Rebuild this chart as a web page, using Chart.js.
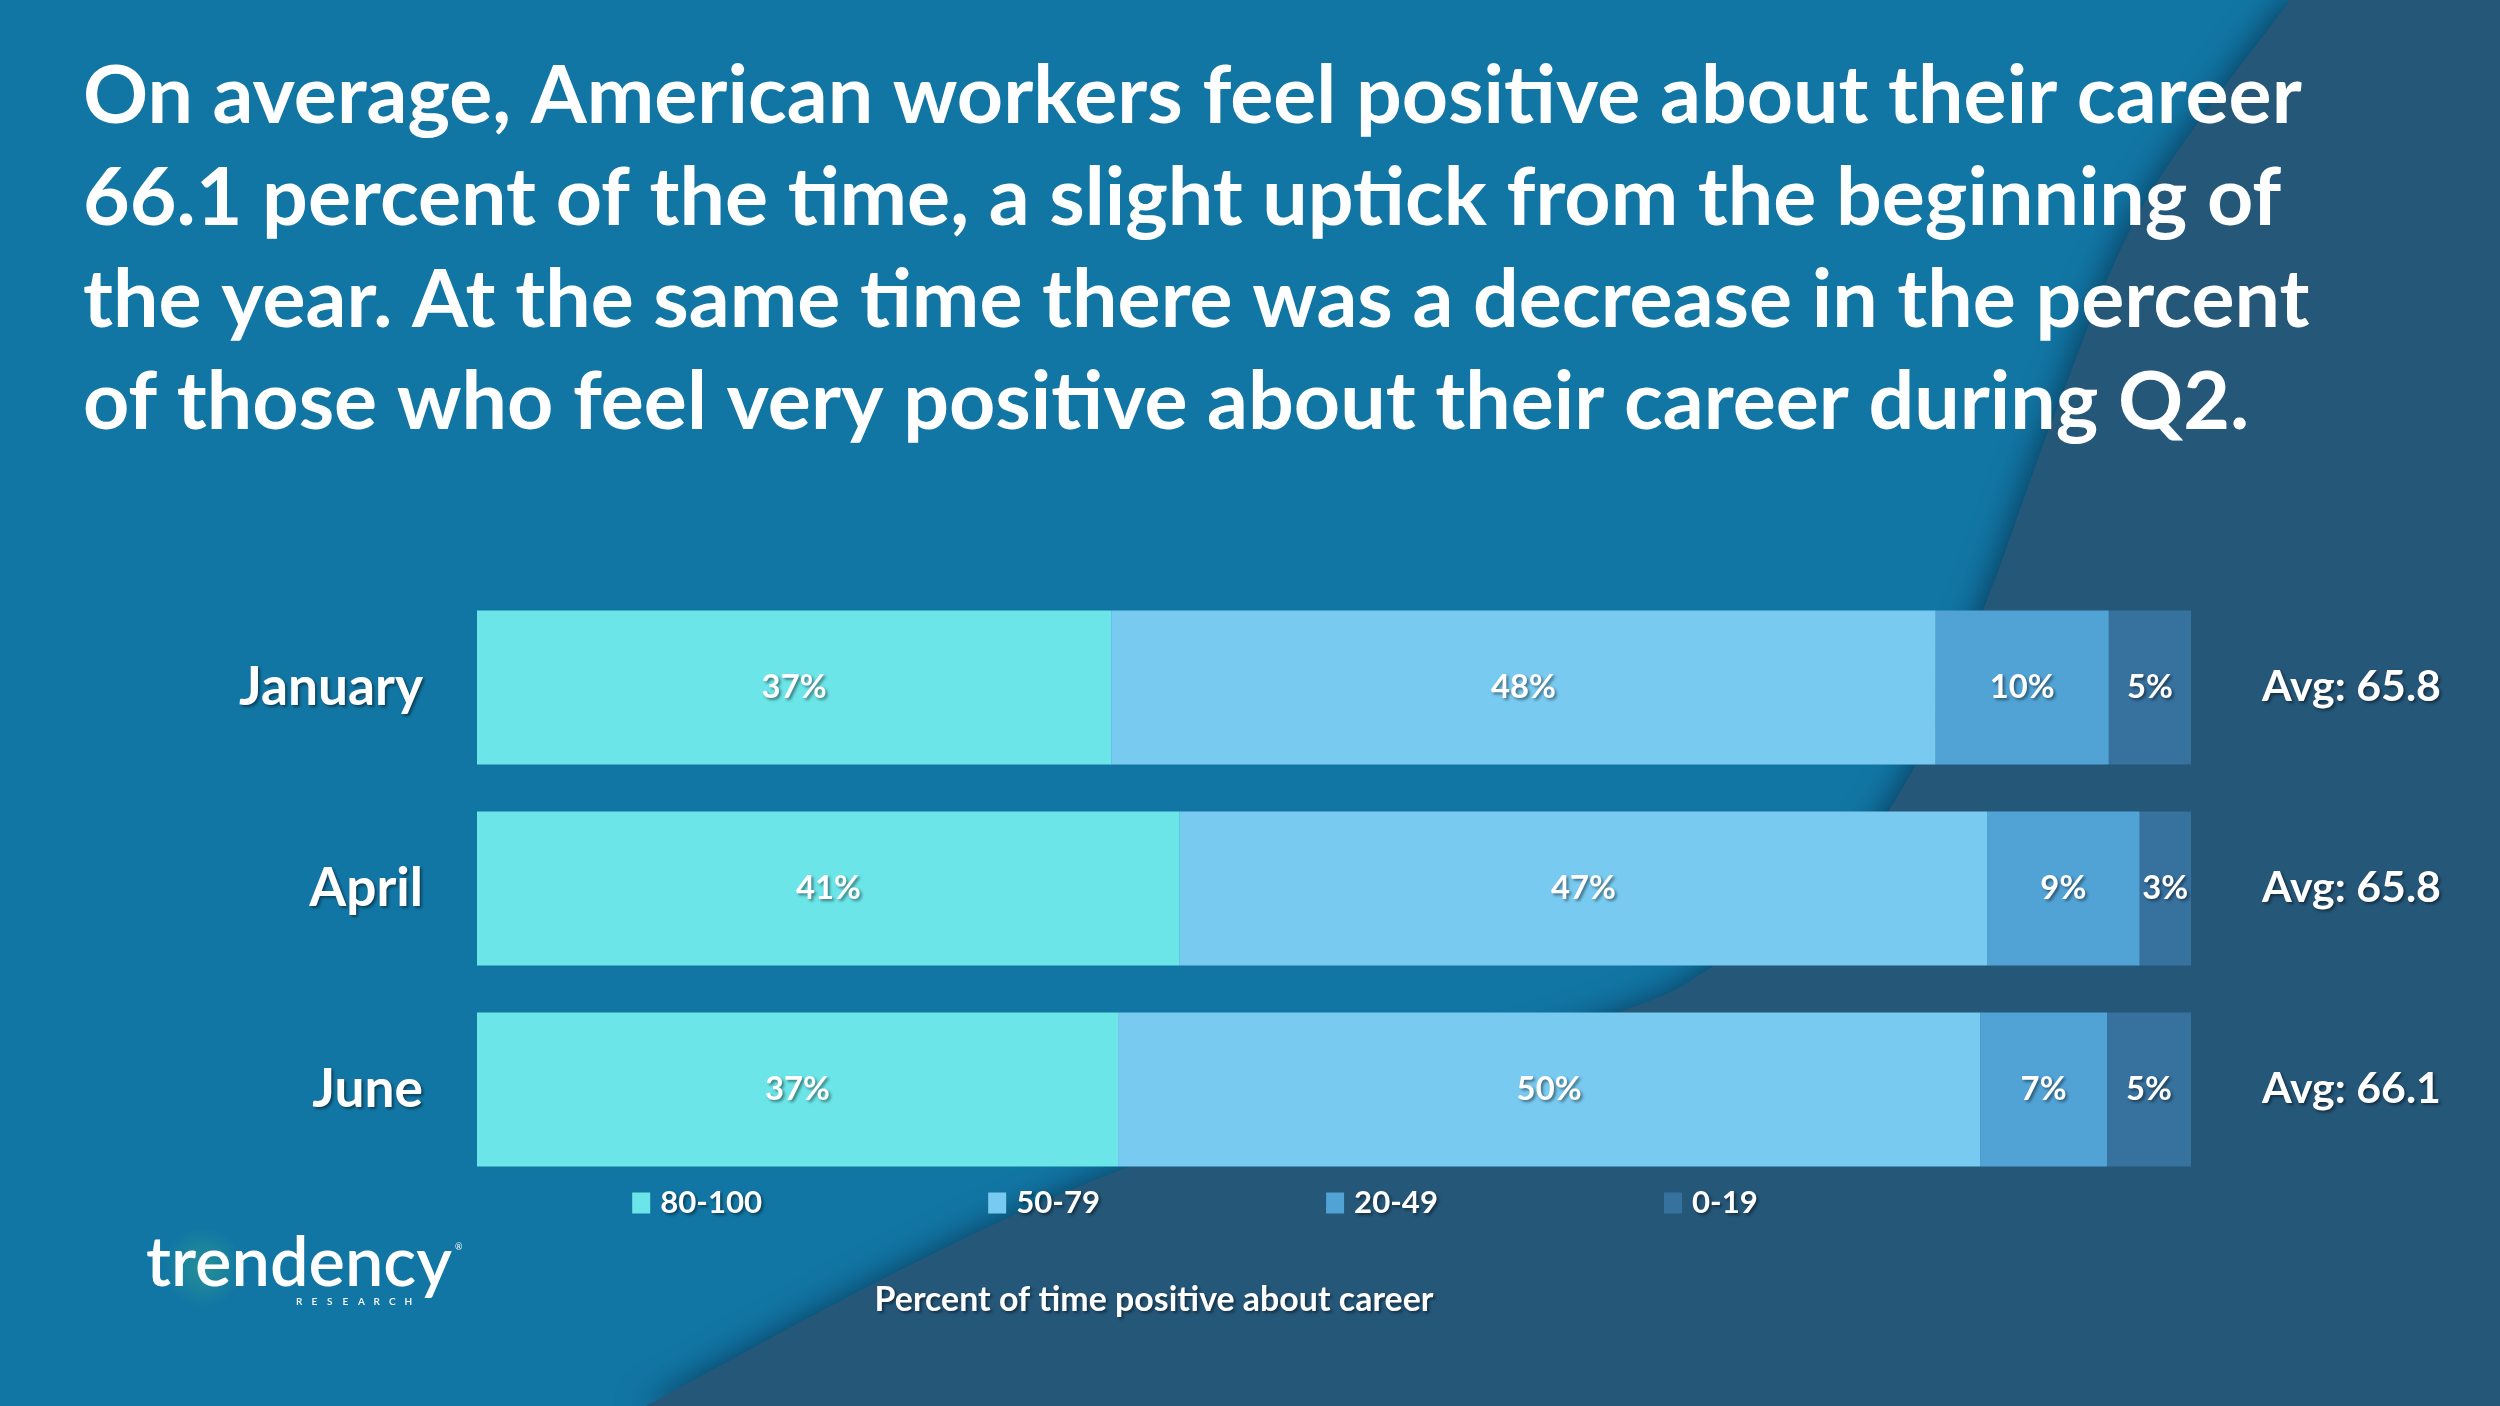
<!DOCTYPE html>
<html>
<head>
<meta charset="utf-8">
<script src="https://cdn.jsdelivr.net/npm/chart.js@4.4.0/dist/chart.umd.min.js"></script>
<style>
  html, body { margin: 0; padding: 0; background: #1276A4; overflow: hidden; }
  #wrap { width: 2500px; height: 1406px; position: relative; }
  canvas { display: block; }
</style>
</head>
<body>
<div id="wrap"><canvas id="c" width="2500" height="1406"></canvas></div>
<script>
// ---------- data ----------
const categories = ['January', 'April', 'June'];
const seriesLabels = ['80-100', '50-79', '20-49', '0-19'];
const share80to100 = [37.0, 41.0, 37.4];
const share50to79 = [48.1, 47.1, 50.3];
const share20to49 = [10.1, 8.9, 7.4];
const share0to19 = [4.8, 3.0, 4.9];
const averageLabels = ['Avg: 65.8', 'Avg: 65.8', 'Avg: 66.1'];
const titleLines = [
  'On average, American workers feel positive about their career',
  '66.1 percent of the time, a slight uptick from the beginning of',
  'the year. At the same time there was a decrease in the percent',
  'of those who feel very positive about their career during Q2.'
];
const axisTitle = 'Percent of time positive about career';

// ---------- styles ----------
const seriesColors = ['#6BE5E8', '#78CAF0', '#51A3D6', '#37719E'];
const BG_LEFT = '#1276A4';
const BG_RIGHT = '#255779';
const FAM = 'Lato, "Open Sans", sans-serif';

const mctx = document.createElement('canvas').getContext('2d');
function fitSize(text, weight, target) {
  mctx.font = weight + ' 100px ' + FAM;
  return 100 * target / mctx.measureText(text).width;
}
const titleSize = fitSize(titleLines[0], 700, 2219);
const catSize = fitSize('January', 700, 184);
const avgSize = fitSize('Avg: 65.8', 700, 179);
const valSize = fitSize('48%', 700, 65);
const legSize = fitSize('80-100', 700, 102);
const axSize = fitSize(axisTitle, 700, 559);

// ---------- plugins ----------
const background = {
  id: 'background',
  beforeDraw(chart) {
    const ctx = chart.ctx;
    const W = chart.width, H = chart.height;
    ctx.save();
    ctx.fillStyle = BG_LEFT;
    ctx.fillRect(0, 0, W, H);
    const pts = [[2290,0],[2144,204],[2057,408],[1987,600],[1916,764],[1840,870],[1713,966],
                 [1622,1011],[1370,1090],[1120,1170],[900,1270],[646,1406]];
    ctx.beginPath();
    ctx.moveTo(W, 0);
    ctx.lineTo(pts[0][0], pts[0][1]);
    for (let i = 0; i < pts.length - 1; i++) {
      const p0 = pts[Math.max(i - 1, 0)], p1 = pts[i], p2 = pts[i + 1], p3 = pts[Math.min(i + 2, pts.length - 1)];
      const c1 = [p1[0] + (p2[0] - p0[0]) / 6, p1[1] + (p2[1] - p0[1]) / 6];
      const c2 = [p2[0] - (p3[0] - p1[0]) / 6, p2[1] - (p3[1] - p1[1]) / 6];
      ctx.bezierCurveTo(c1[0], c1[1], c2[0], c2[1], p2[0], p2[1]);
    }
    ctx.lineTo(W, H);
    ctx.closePath();
    ctx.shadowColor = 'rgba(0,25,50,0.55)';
    ctx.shadowBlur = 30;
    ctx.shadowOffsetX = -6;
    ctx.shadowOffsetY = 0;
    ctx.fillStyle = BG_RIGHT;
    ctx.fill();
    ctx.restore();
  }
};

const valueLabels = {
  id: 'valueLabels',
  afterDatasetsDraw(chart) {
    const ctx = chart.ctx;
    ctx.save();
    ctx.font = '700 ' + valSize + 'px ' + FAM;
    ctx.fillStyle = '#FFFFFF';
    ctx.textAlign = 'center';
    ctx.textBaseline = 'middle';
    ctx.shadowColor = 'rgba(0,0,0,0.45)';
    ctx.shadowBlur = 3;
    ctx.shadowOffsetX = 2;
    ctx.shadowOffsetY = 2;
    chart.data.datasets.forEach((ds, i) => {
      const meta = chart.getDatasetMeta(i);
      meta.data.forEach((el, j) => {
        const v = ds.data[j];
        ctx.fillText(Math.round(v) + '%', (el.x + el.base) / 2, el.y);
      });
    });
    ctx.restore();
    // shadow for the axis labels drawn next (ticks z = 1)
    ctx.shadowColor = 'rgba(0,0,0,0.45)';
    ctx.shadowBlur = 3;
    ctx.shadowOffsetX = 2;
    ctx.shadowOffsetY = 2;
  }
};

const bottomLegend = {
  id: 'bottomLegend',
  afterDraw(chart) {
    const ctx = chart.ctx;
    ctx.save();
    ctx.shadowColor = 'rgba(0,0,0,0.45)';
    ctx.shadowBlur = 3;
    ctx.shadowOffsetX = 2;
    ctx.shadowOffsetY = 2;
    ctx.font = '700 ' + legSize + 'px ' + FAM;
    const boxW = 18, boxH = 21, gap = 10, pad = 226;
    const items = chart.data.datasets.map(ds => ({ text: ds.label, color: ds.backgroundColor, w: ctx.measureText(ds.label).width }));
    let total = items.reduce((s, it) => s + boxW + gap + it.w, 0) + pad * (items.length - 1);
    let x = 1195 - total / 2;
    const yc = 1203;
    items.forEach(it => {
      ctx.save();
      ctx.shadowColor = 'rgba(0,0,0,0)';
      ctx.fillStyle = it.color;
      ctx.fillRect(x, yc - boxH / 2, boxW, boxH);
      ctx.restore();
      ctx.fillStyle = '#FFFFFF';
      ctx.textAlign = 'left';
      ctx.textBaseline = 'middle';
      ctx.fillText(it.text, x + boxW + gap, yc);
      x += boxW + gap + it.w + pad;
    });
    ctx.font = '700 ' + axSize + 'px ' + FAM;
    ctx.textAlign = 'center';
    ctx.fillText(axisTitle, 1154, 1300);
    ctx.restore();

    // logo
    ctx.save();
    ctx.shadowColor = 'rgba(0,0,0,0)';
    const g = ctx.createRadialGradient(203, 1267, 5, 203, 1267, 40);
    g.addColorStop(0, 'rgba(80,200,120,0.28)');
    g.addColorStop(1, 'rgba(80,200,120,0)');
    ctx.fillStyle = g;
    ctx.beginPath(); ctx.arc(203, 1267, 40, 0, Math.PI * 2); ctx.fill();
    const logoSize = fitSize('trendency', 600, 306);
    ctx.font = '600 ' + logoSize + 'px ' + FAM;
    ctx.fillStyle = '#FFFFFF';
    ctx.textAlign = 'left';
    ctx.textBaseline = 'alphabetic';
    ctx.fillText('trendency', 146, 1286);
    ctx.font = '400 9px ' + FAM;
    ctx.fillText('®', 455, 1250);
    ctx.font = '600 10px ' + FAM;
    const letters = 'RESEARCH'.split('');
    letters.forEach((ch, i) => ctx.fillText(ch, 296 + i * 15.5, 1305));
    ctx.restore();
    ctx.shadowColor = 'rgba(0,0,0,0)';
  }
};

// ---------- chart ----------
new Chart(document.getElementById('c'), {
  type: 'bar',
  data: {
    labels: categories,
    datasets: [
      { label: seriesLabels[0], data: share80to100, backgroundColor: seriesColors[0] },
      { label: seriesLabels[1], data: share50to79, backgroundColor: seriesColors[1] },
      { label: seriesLabels[2], data: share20to49, backgroundColor: seriesColors[2] },
      { label: seriesLabels[3], data: share0to19, backgroundColor: seriesColors[3] }
    ].map(d => Object.assign(d, { borderWidth: 0, barPercentage: 0.766, categoryPercentage: 1 }))
  },
  options: {
    indexAxis: 'y',
    responsive: false,
    devicePixelRatio: 1,
    animation: false,
    layout: { padding: { left: 83, right: 0, top: 0, bottom: 216 } },
    plugins: {
      legend: { display: false },
      tooltip: { enabled: false },
      title: {
        display: true,
        text: titleLines,
        align: 'start',
        color: '#FFFFFF',
        font: { family: FAM, weight: '700', size: titleSize, lineHeight: '102px' },
        padding: { top: 46, bottom: 133 }
      }
    },
    scales: {
      x: { stacked: true, min: 0, max: 100, display: false },
      y: {
        stacked: true,
        grid: { display: false },
        border: { display: false },
        ticks: { color: '#FFFFFF', padding: 46, z: 1, font: { family: FAM, weight: '700', size: catSize } },
        afterFit(scale) { scale.width = 394; }
      },
      y2: {
        type: 'category',
        position: 'right',
        labels: averageLabels,
        offset: true,
        grid: { display: false },
        border: { display: false },
        ticks: { color: '#FFFFFF', padding: 63, z: 1, font: { family: FAM, weight: '700', size: avgSize } },
        afterFit(scale) { scale.width = 309; }
      }
    }
  },
  plugins: [background, valueLabels, bottomLegend]
});
</script>
</body>
</html>
